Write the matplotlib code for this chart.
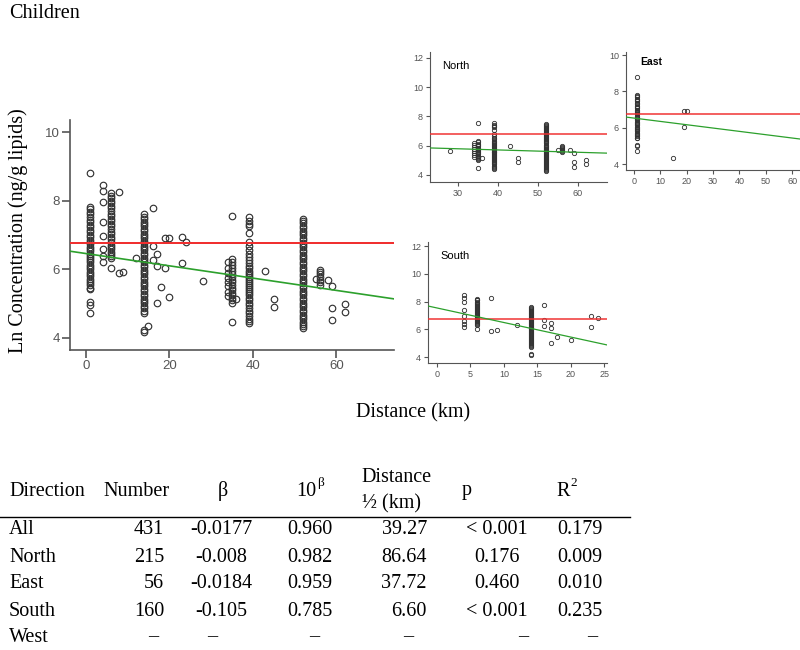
import matplotlib.pyplot as plt

plt.rcParams['font.family'] = ['Liberation Sans', 'DejaVu Sans']

# ---------------- data ----------------
# Ln concentration values grouped by sampling distance (km), per direction
north_dist = [28, 34, 35, 36, 39, 43, 45, 52, 55, 56, 58, 59, 62]
north_vals = [
    [5.65],
    [6.2, 6.05, 5.9, 5.75, 5.62, 5.5, 5.35, 5.22],
    [7.55, 6.3, 6.22, 6.12, 6.03, 5.95, 5.86, 5.78, 5.7, 5.62, 5.55, 5.47,
     5.4, 5.32, 5.25, 5.17, 5.1, 5.03, 4.46],
    [5.13],
    [7.52, 7.42, 7.33, 7.25, 7.05, 6.8, 6.68, 6.55, 6.45, 6.35, 6.26, 6.18,
     6.1, 6.03, 5.96, 5.9, 5.84, 5.78, 5.72, 5.66, 5.6, 5.54, 5.48, 5.42,
     5.36, 5.3, 5.24, 5.17, 5.1, 5.03, 4.96, 4.88, 4.8, 4.72, 4.64, 4.56,
     4.5, 4.44],
    [5.96],
    [5.14, 4.9],
    [7.48, 7.41, 7.34, 7.27, 7.2, 7.13, 7.06, 6.99, 6.92, 6.85, 6.78, 6.71,
     6.64, 6.57, 6.5, 6.43, 6.36, 6.29, 6.22, 6.15, 6.08, 6.01, 5.94, 5.87,
     5.8, 5.73, 5.66, 5.59, 5.52, 5.45, 5.38, 5.31, 5.24, 5.17, 5.1, 5.03,
     4.96, 4.89, 4.82, 4.75, 4.68, 4.61, 4.54, 4.47, 4.4, 4.34, 4.3],
    [5.71],
    [5.98, 5.92, 5.85, 5.78, 5.7, 5.63, 5.55],
    [5.69],
    [5.5, 4.87, 4.52],
    [4.99, 4.76],
]

east_dist = [1, 15, 19, 20]
east_vals = [
    [8.8, 7.82, 7.75, 7.68, 7.6, 7.52, 7.45, 7.38, 7.3, 7.22, 7.15, 7.08,
     7.0, 6.93, 6.86, 6.8, 6.73, 6.66, 6.6, 6.53, 6.46, 6.4, 6.33, 6.26,
     6.2, 6.13, 6.06, 6.0, 5.93, 5.86, 5.8, 5.73, 5.66, 5.6, 5.53, 5.46,
     5.42, 5.05, 4.97, 4.72],
    [4.35],
    [6.92, 6.04],
    [6.92],
]

south_dist = [4, 6, 8, 9, 12, 14, 16, 17, 18, 20, 23, 24]
south_vals = [
    [8.47, 8.28, 7.97, 7.39, 6.96, 6.6, 6.38, 6.2],
    [8.22, 8.15, 8.08, 8.0, 7.92, 7.85, 7.78, 7.7, 7.62, 7.55, 7.48, 7.4,
     7.32, 7.25, 7.18, 7.1, 7.02, 6.95, 6.88, 6.8, 6.72, 6.65, 6.58, 6.5,
     6.44, 6.38, 6.32, 6.03],
    [8.25, 5.89],
    [5.93],
    [6.33],
    [7.6, 7.53, 7.46, 7.39, 7.32, 7.25, 7.18, 7.11, 7.04, 6.97, 6.9, 6.83,
     6.76, 6.69, 6.62, 6.55, 6.48, 6.41, 6.34, 6.27, 6.2, 6.13, 6.06, 5.99,
     5.92, 5.85, 5.78, 5.71, 5.64, 5.57, 5.5, 5.43, 5.36, 5.29, 5.22, 5.15,
     5.08, 5.01, 4.94, 4.87, 4.8, 4.74, 4.22, 4.18],
    [7.78, 6.68, 6.26],
    [6.45, 6.1, 5.03],
    [5.48],
    [5.2],
    [6.93, 6.17],
    [6.8],
]

# fitted lines (intercept, slope) and the reference level (red line)
fit_all = (6.46, -0.0179)
fit_north = (6.03, -0.008)
fit_east = (6.53, -0.0183)
fit_south = (7.54, -0.105)
ref_level = 6.77

# table below the plots
directions = ['All', 'North', 'East', 'South', 'West']
numbers = ['431', '215', '56', '160', '\u2013']
betas = ['-0.0177', '-0.008', '-0.0184', '-0.105', '\u2013']
ten_beta = ['0.960', '0.982', '0.959', '0.785', '\u2013']
half_dist = ['39.27', '86.64', '37.72', '6.60', '\u2013']
p_vals = ['< 0.001', '0.176', '0.460', '< 0.001', '\u2013']
r_sq = ['0.179', '0.009', '0.010', '0.235', '\u2013']


def expand(dists, vals):
    xs, ys = [], []
    for d, v in zip(dists, vals):
        xs += [d] * len(v)
        ys += v
    return xs, ys


W, H = 800, 650
fig = plt.figure(figsize=(W / 100, H / 100), dpi=100)


def px_axes(l, t, r, b):
    return fig.add_axes([l / W, 1 - b / H, (r - l) / W, (b - t) / H])


def style(ax, lw, tl, fs):
    for s in ['top', 'right']:
        ax.spines[s].set_visible(False)
    for s in ['left', 'bottom']:
        ax.spines[s].set_color('#555555')
        ax.spines[s].set_linewidth(lw)
    ax.tick_params(direction='out', length=tl, width=lw, colors='#555555',
                   labelsize=fs, pad=2)


def panel(ax, xs, ys, fit, xlim, ylim, ms, lw):
    ax.plot(xs, ys, 'o', ms=ms, mfc='none', mec='#333333', mew=lw * 0.7,
            zorder=2)
    ax.axhline(ref_level, color='#f03030', lw=lw * 1.2, zorder=3)
    a, b = fit
    ax.plot(xlim, [a + b * xlim[0], a + b * xlim[1]], color='#2ca02c',
            lw=lw, zorder=3)
    ax.set_xlim(xlim)
    ax.set_ylim(ylim)


nx, ny = expand(north_dist, north_vals)
ex, ey = expand(east_dist, east_vals)
sx, sy = expand(south_dist, south_vals)

# main panel: all directions together
ax = px_axes(70, 120, 394, 350)
panel(ax, nx + ex + sx, ny + ey + sy, fit_all, (-3.8, 73.8), (3.65, 10.35),
      4.7, 1.2)
ax.set_xticks([0, 20, 40, 60])
ax.set_yticks([4, 6, 8, 10])
style(ax, 1.2, 5.5, 9.5)

# North inset
axn = px_axes(430, 52, 607, 182)
panel(axn, nx, ny, fit_north, (23, 67.25), (3.52, 12.4), 3.1, 0.9)
axn.set_xticks([30, 40, 50, 60])
axn.set_yticks([4, 6, 8, 10, 12])
style(axn, 0.8, 3, 6.5)
axn.text(0.068, 0.89, 'North', transform=axn.transAxes, fontsize=8,
         va='center')

# East inset
axe = px_axes(626, 52, 800, 170)
panel(axe, ex, ey, fit_east, (-3.0, 63), (3.67, 10.17), 3.1, 0.9)
axe.set_xticks([0, 10, 20, 30, 40, 50, 60])
axe.set_yticks([4, 6, 8, 10])
style(axe, 0.8, 3, 6.5)
axe.text(0.08, 0.915, 'East', transform=axe.transAxes, fontsize=7.5,
         fontweight='bold', va='center')

# South inset
axs = px_axes(428, 242, 607, 363)
panel(axs, sx, sy, fit_south, (-1.35, 25.4), (3.57, 12.3), 3.1, 0.9)
axs.set_xticks([0, 5, 10, 15, 20, 25])
axs.set_yticks([4, 6, 8, 10, 12])
style(axs, 0.8, 3, 6.5)
axs.text(0.067, 0.884, 'South', transform=axs.transAxes, fontsize=8,
         va='center')

serif = ['Liberation Serif', 'DejaVu Serif']


def T(x, y, s, ha='left', fs=14.5, **kw):
    fig.text(x / W, 1 - y / H, s, ha=ha, va='center', fontsize=fs,
             family=serif, **kw)


T(9, 13, 'Children')
T(18, 231, 'Ln Concentration (ng/g lipids)', ha='center', rotation=90)
T(413, 413, 'Distance (km)', ha='center')

# table header
T(9, 491, 'Direction')
T(103, 491, 'Number')
T(223, 491, '\u03b2', ha='center')
T(316, 491, '10', ha='right')
T(317, 483, '\u03b2', fs=9.5)
T(361, 478, 'Distance')
T(362, 504, '\u00bd (km)')
T(462, 491, 'p')
T(556, 491, 'R')
T(570, 483, '2', fs=9.5)
fig.add_artist(plt.Line2D([0, 630 / W], [1 - 517 / H] * 2, color='black',
                          lw=1.0))

row_y = [530, 557, 584, 611, 637]
for i, yy in enumerate(row_y[:4]):
    T(9, yy, directions[i])
    T(164, yy, numbers[i], ha='right')
    T(221, yy, betas[i], ha='center')
    T(310, yy, ten_beta[i], ha='center')
    T(427, yy, half_dist[i], ha='right')
    T(497, yy, p_vals[i], ha='center')
    T(580, yy, r_sq[i], ha='center')

# West row: only dashes
T(9, row_y[4], directions[4])
for xx, s in zip([153, 212, 314, 408, 523, 592],
                 [numbers[4], betas[4], ten_beta[4], half_dist[4], p_vals[4],
                  r_sq[4]]):
    T(xx, row_y[4], s, ha='center')

fig.savefig('out.png', dpi=100)
